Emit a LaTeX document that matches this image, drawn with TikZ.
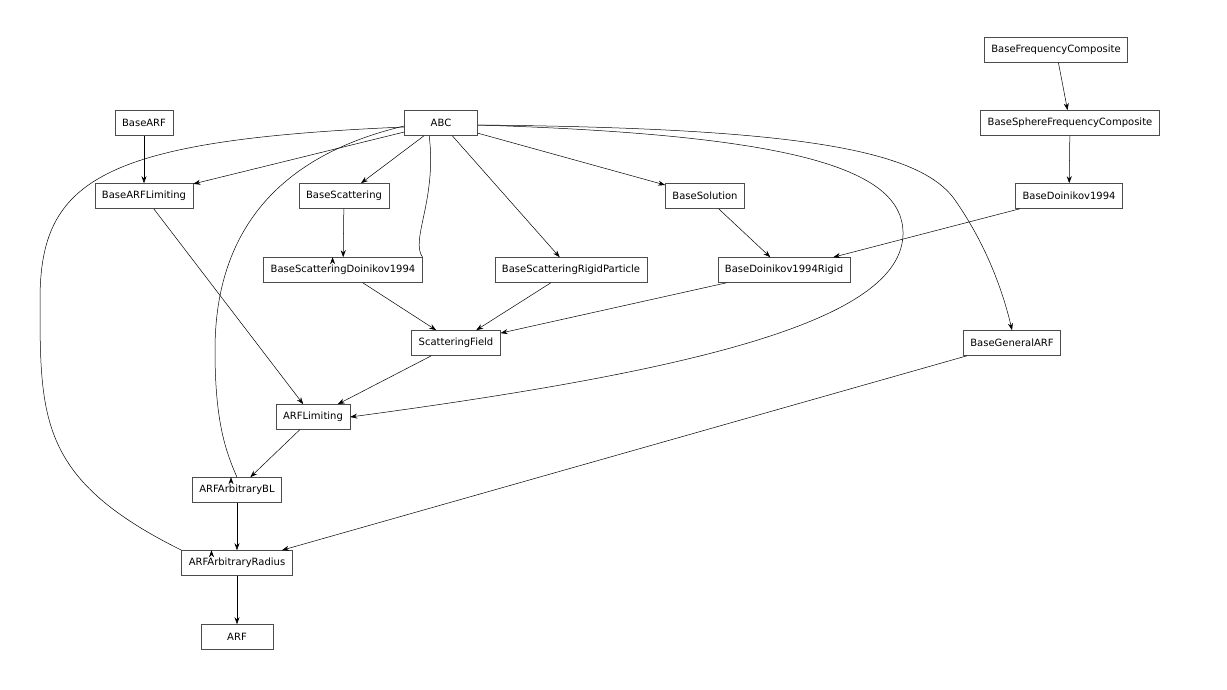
\documentclass[tikz,border=0pt]{standalone}
\usepackage{fontspec}
\setmainfont{DejaVu Sans}
\usetikzlibrary{arrows.meta}
\begin{document}
\begin{tikzpicture}[x=1pt,y=-1pt,
  cls/.style={draw=black!70,line width=0.6pt,font=\fontsize{10}{12}\selectfont,inner xsep=7pt,minimum height=25pt,inner ysep=0pt},
  ar/.style={line width=0.5pt,-{Stealth[length=7pt,width=5pt]}}]
\useasboundingbox (0,0) rectangle (1227,689);
\node[cls] (bfc) at (1056,50) {BaseFrequencyComposite};
\node[cls] (bsfc) at (1070,123) {BaseSphereFrequencyComposite};
\node[cls] (barf) at (144,123) {BaseARF};
\node[cls,minimum width=73pt] (abc) at (441,123) {ABC};
\node[cls] (barfl) at (144,196) {BaseARFLimiting};
\node[cls] (bs) at (344,196) {BaseScattering};
\node[cls] (bsol) at (705,196) {BaseSolution};
\node[cls] (bd) at (1069,196) {BaseDoinikov1994};
\node[cls] (bsd) at (343,270) {BaseScatteringDoinikov1994};
\node[cls] (bsrp) at (571,270) {BaseScatteringRigidParticle};
\node[cls] (bdr) at (784,270) {BaseDoinikov1994Rigid};
\node[cls] (sf) at (456,343) {ScatteringField};
\node[cls] (bga) at (1012,343) {BaseGeneralARF};
\node[cls] (arfl) at (313,417) {ARFLimiting};
\node[cls] (abl) at (237,490) {ARFArbitraryBL};
\node[cls] (arad) at (237,563) {ARFArbitraryRadius};
\node[cls,minimum width=72pt] (arf) at (237,637) {ARF};
\draw[ar] (bfc) -- (bsfc);
\draw[ar] (bsfc) -- (bd);
\draw[ar] (bd) -- (bdr);
\draw[ar] (barf) -- (barfl);
\draw[ar] (abc) -- (barfl);
\draw[ar] (abc) -- (bs);
\draw[ar] (abc) -- (bsrp);
\draw[ar] (abc) -- (bsol);
\draw[ar] (barfl) -- (arfl);
\draw[ar] (bs) -- (bsd);
\draw[ar] (bsol) -- (bdr);
\draw[ar] (bsd) -- (sf);
\draw[ar] (bsrp) -- (sf);
\draw[ar] (bdr) -- (sf);
\draw[ar] (sf) -- (arfl);
\draw[ar] (bga) -- (arad);
\draw[ar] (arfl) -- (abl);
\draw[ar] (abl) -- (arad);
\draw[ar] (arad) -- (arf);
\draw[ar] (abc.south west) ++(25,0) .. controls (437,200) and (410,240) .. (bsd.north east) ++(-90,0);
\draw[ar] (abc.east) ++(0,2) .. controls (800,135) and (905,170) .. (903,235) .. controls (900,320) and (700,370) .. (arfl.east);
\draw[ar] (abc.east) ++(0,2) .. controls (800,128) and (920,150) .. (955,200) .. controls (990,250) and (1005,300) .. (bga.north);
\draw[ar] (abc.west) ++(0,3) .. controls (260,160) and (215,250) .. (215,350) .. controls (215,420) and (225,450) .. (abl.north) ++(-6,0);
\draw[ar] (abc.west) ++(0,4) .. controls (100,140) and (40,180) .. (40,300) .. controls (40,420) and (40,480) .. (arad.north west) ++(30,0);
\end{tikzpicture}
\end{document}
